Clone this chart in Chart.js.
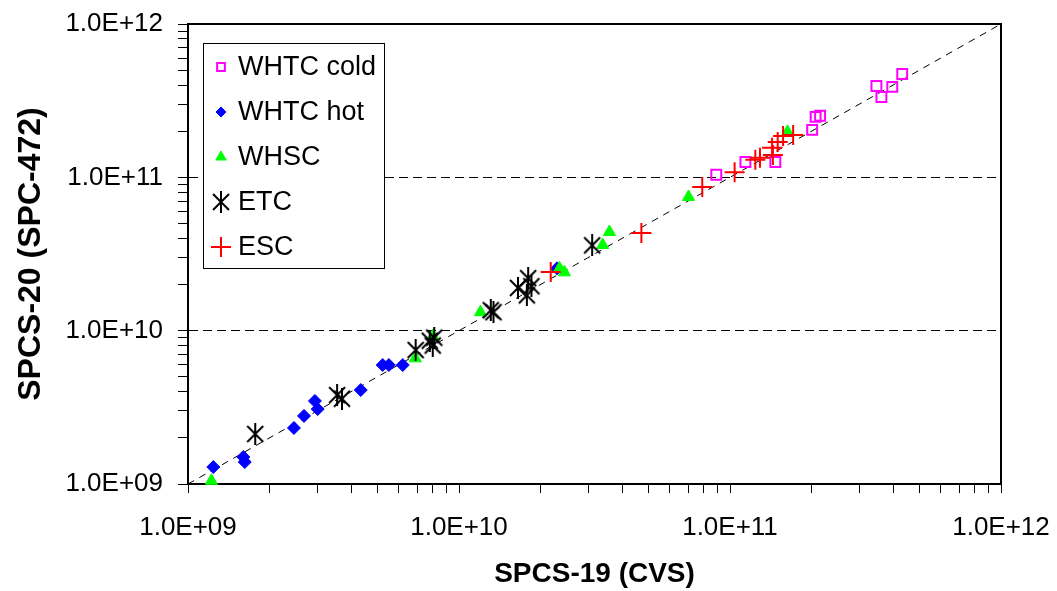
<!DOCTYPE html>
<html>
<head>
<meta charset="utf-8">
<script src="https://cdn.jsdelivr.net/npm/chart.js@4.4.0/dist/chart.umd.min.js"></script>
<style>
  html, body { margin: 0; padding: 0; background: #fff; }
</style>
</head>
<body>
<canvas id="chart" width="1057" height="591"></canvas>
<script>
// values, [SPCS-19, SPCS-20]
var whtcCold = [
  [8.9e10, 1.04e11], [1.14e11, 1.26e11], [1.47e11, 1.26e11], [2.01e11, 2.04e11],
  [2.07e11, 2.48e11], [2.15e11, 2.52e11], [3.47e11, 3.94e11], [3.62e11, 3.34e11],
  [3.97e11, 3.89e11], [4.32e11, 4.72e11]
];
var whtcHot = [
  [1.24e9, 1.29e9], [1.60e9, 1.50e9], [1.62e9, 1.39e9], [2.46e9, 2.32e9],
  [2.68e9, 2.78e9], [2.94e9, 3.48e9], [3.01e9, 3.08e9], [4.34e9, 4.10e9],
  [5.23e9, 5.97e9], [5.51e9, 5.97e9], [6.20e9, 5.97e9], [2.30e10, 2.55e10]
];
var whsc = [
  [1.22e9, 1.05e9], [6.9e9, 6.6e9], [8.0e9, 9.2e9], [1.20e10, 1.32e10],
  [2.35e10, 2.55e10], [2.45e10, 2.40e10], [3.39e10, 3.62e10], [3.59e10, 4.40e10],
  [7.03e10, 7.45e10], [1.63e11, 1.98e11]
];
var etc = [
  [1.77e9, 2.12e9], [3.55e9, 3.80e9], [3.70e9, 3.60e9], [6.92e9, 7.48e9],
  [7.8e9, 8.6e9], [8.1e9, 9.0e9], [8.0e9, 8.0e9], [1.31e10, 1.36e10],
  [1.34e10, 1.32e10], [1.65e10, 1.90e10], [1.80e10, 2.20e10], [1.78e10, 1.70e10],
  [1.85e10, 1.95e10], [3.10e10, 3.60e10]
];
var esc = [
  [2.18e10, 2.41e10], [4.71e10, 4.34e10], [7.9e10, 8.66e10], [1.04e11, 1.08e11],
  [1.24e11, 1.30e11], [1.29e11, 1.34e11], [1.43e11, 1.56e11], [1.44e11, 1.40e11],
  [1.50e11, 1.70e11], [1.57e11, 1.86e11], [1.71e11, 1.89e11]
];
var parityLine = [[1e9, 1e9], [1e12, 1e12]];

var axisMin = 1e9, axisMax = 1e12;
var decades = [1e9, 1e10, 1e11, 1e12];
var minorSteps = [2, 3, 4, 5, 6, 7, 8, 9];

var tickValues = [];
decades.forEach(function(d, i){
  tickValues.push(d);
  if (i < decades.length - 1) {
    minorSteps.forEach(function(m){ tickValues.push(d * m); });
  }
});

function toPts(arr){
  return arr.map(function(p){ return {x: p[0], y: p[1]}; });
}

function sciLabel(v){
  var e = Math.round(Math.log10(v));
  if (Math.abs(v - Math.pow(10, e)) > v * 1e-6) return '';
  return '1.0E+' + (e < 10 ? '0' + e : e);
}

// Excel style asterisk: X with a vertical bar
var star = document.createElement('canvas');
star.width = 20; star.height = 22;
(function(){
  var c = star.getContext('2d');
  c.strokeStyle = '#000';
  c.lineWidth = 2;
  c.beginPath();
  c.moveTo(2, 3); c.lineTo(18, 19);
  c.moveTo(18, 3); c.lineTo(2, 19);
  c.moveTo(10, 0); c.lineTo(10, 22);
  c.stroke();
})();

var FONT = "'Liberation Sans', Arial, sans-serif";

var frameAndLegend = {
  id: 'frameAndLegend',
  afterDraw: function(chart){
    var ctx = chart.ctx, a = chart.chartArea;
    ctx.save();
    // top and right edges of the frame
    ctx.strokeStyle = '#000';
    ctx.lineWidth = 2;
    ctx.beginPath();
    ctx.moveTo(a.left, a.top);
    ctx.lineTo(a.right, a.top);
    ctx.lineTo(a.right, a.bottom);
    ctx.stroke();

    // legend box
    var x0 = a.left + 15, y0 = a.top + 19, w = 181, h = 225;
    ctx.fillStyle = '#fff';
    ctx.fillRect(x0, y0, w, h);
    ctx.lineWidth = 1;
    ctx.strokeRect(x0 + 0.5, y0 + 0.5, w, h);

    var rowH = 45;
    ctx.font = '27px ' + FONT;
    ctx.textBaseline = 'middle';
    ctx.textAlign = 'left';
    var n = 0;
    chart.data.datasets.forEach(function(ds){
      if (!ds.label) return;
      var cy = y0 + 24 + n * rowH;
      var cx = x0 + 18;
      ctx.fillStyle = ds.backgroundColor;
      ctx.strokeStyle = ds.borderColor;
      ctx.lineWidth = ds.pointBorderWidth;
      Chart.helpers.drawPoint(ctx, {
        pointStyle: ds.pointStyle,
        radius: ds.legendRadius,
        rotation: 0,
        borderWidth: ds.pointBorderWidth
      }, cx, cy);
      ctx.fillStyle = '#000';
      ctx.fillText(ds.label, x0 + 35, cy + 1);
      n++;
    });
    ctx.restore();
  }
};

new Chart(document.getElementById('chart'), {
  type: 'scatter',
  data: {
    datasets: [
      {
        label: 'WHTC cold', data: toPts(whtcCold), order: 5, clip: false,
        pointStyle: 'rect', pointRadius: 7, legendRadius: 5.5, pointBorderWidth: 2,
        backgroundColor: 'rgba(0,0,0,0)', borderColor: '#ff00ff',
        pointBackgroundColor: 'rgba(0,0,0,0)', pointBorderColor: '#ff00ff'
      },
      {
        label: 'WHTC hot', data: toPts(whtcHot), order: 4, clip: false,
        pointStyle: 'rectRot', pointRadius: 6.5, legendRadius: 5, pointBorderWidth: 1,
        backgroundColor: '#0000ff', borderColor: '#0000ff',
        pointBackgroundColor: '#0000ff', pointBorderColor: '#0000ff'
      },
      {
        label: 'WHSC', data: toPts(whsc), order: 3, clip: false,
        pointStyle: 'triangle', pointRadius: 7, legendRadius: 6, pointBorderWidth: 1,
        backgroundColor: '#00ff00', borderColor: '#00ff00',
        pointBackgroundColor: '#00ff00', pointBorderColor: '#00ff00'
      },
      {
        label: 'ETC', data: toPts(etc), order: 2, clip: false,
        pointStyle: star, pointRadius: 10, legendRadius: 10, pointBorderWidth: 2,
        backgroundColor: '#000', borderColor: '#000'
      },
      {
        label: 'ESC', data: toPts(esc), order: 1, clip: false,
        pointStyle: 'cross', pointRadius: 10, legendRadius: 10, pointBorderWidth: 2,
        backgroundColor: '#ff0000', borderColor: '#ff0000',
        pointBackgroundColor: '#ff0000', pointBorderColor: '#ff0000'
      },
      {
        data: toPts(parityLine), order: 10, showLine: true,
        borderColor: '#000', borderWidth: 1, borderDash: [7, 6],
        pointRadius: 0, pointHoverRadius: 0, fill: false
      }
    ]
  },
  options: {
    responsive: false,
    animation: false,
    events: [],
    layout: { padding: { top: 24, right: 56, left: 0, bottom: 0 } },
    plugins: {
      legend: { display: false },
      tooltip: { enabled: false }
    },
    scales: {
      x: {
        type: 'logarithmic', min: axisMin, max: axisMax,
        afterBuildTicks: function(s){ s.ticks = tickValues.map(function(v){ return {value: v}; }); },
        afterFit: function(s){
          s.height = 107;
          s.paddingLeft = 0; s.paddingRight = 0;
        },
        border: { display: true, color: '#000', width: 2 },
        grid: { color: 'rgba(0,0,0,0)', tickColor: '#000', tickLength: 9, tickWidth: 1 },
        ticks: {
          autoSkip: false, maxRotation: 0, padding: 19, color: '#000',
          font: { family: FONT, size: 26 },
          callback: function(v){ return sciLabel(v); }
        },
        title: {
          display: true, text: 'SPCS-19 (CVS)', color: '#000',
          font: { family: FONT, size: 28, weight: 'bold' },
          padding: { top: 0, bottom: 0 }
        }
      },
      y: {
        type: 'logarithmic', min: axisMin, max: axisMax,
        afterBuildTicks: function(s){ s.ticks = tickValues.map(function(v){ return {value: v}; }); },
        afterFit: function(s){
          s.width = 188;
          s.paddingTop = 0; s.paddingBottom = 0;
        },
        border: { display: true, color: '#000', width: 2, dash: [9, 5] },
        grid: {
          color: function(c){
            var v = c.tick && c.tick.value;
            return (v === 1e10 || v === 1e11) ? '#000' : 'rgba(0,0,0,0)';
          },
          tickColor: '#000', tickLength: 10, tickWidth: 1, lineWidth: 1
        },
        ticks: {
          autoSkip: false, padding: 15, color: '#000',
          font: { family: FONT, size: 26 },
          callback: function(v){ return sciLabel(v); }
        },
        title: {
          display: true, text: 'SPCS-20 (SPC-472)', color: '#000',
          font: { family: FONT, size: 32, weight: 'bold' },
          padding: { top: 12, bottom: 0 }
        }
      }
    }
  },
  plugins: [frameAndLegend]
});
</script>
</body>
</html>
